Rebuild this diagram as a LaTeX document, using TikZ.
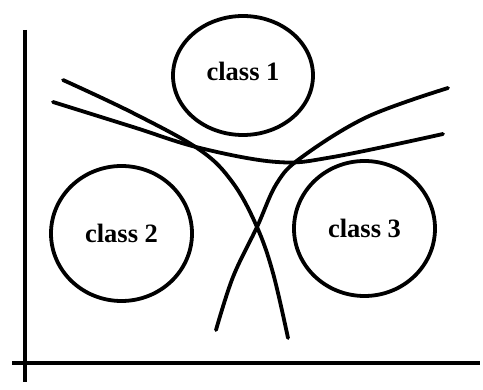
\documentclass[tikz,border=0pt]{standalone}
\usepackage{fontspec}
\setmainfont{Liberation Serif}
\usepackage{tikz}
\usetikzlibrary{shapes.geometric}

\begin{document}
\begin{tikzpicture}[x=1pt, y=-1pt, line width=3.8pt,
                    every node/.style={font=\bfseries\fontsize{26.5}{30}\selectfont},
                    cls/.style={draw, ellipse, inner sep=0pt, minimum width=141pt,
                                minimum height=135pt},
                    border/.style={line cap=round}]
  \useasboundingbox (0,0) rectangle (483,390);

  % axes
  \draw (25,30) -- (25,382);
  \draw (12,363) -- (480,363);

  % the three classes
  \node[cls, minimum width=140pt, minimum height=119pt, text depth=8pt] (class1) at (243,75.5) {class 1};
  \node[cls] (class2) at (121.5,233.5) {class 2};
  \node[cls] (class3) at (364.5,228.5) {class 3};

  % decision boundaries
  \draw[border] plot[smooth, tension=0.6] coordinates
    {(63,80) (133,113) (200,150) (233,183) (257,227) (273,273) (288,338)};
  \draw[border] plot[smooth, tension=0.6] coordinates
    {(448,88) (367,117) (302,157) (277,183) (257,227) (233,277) (216,330)};
  \draw[border] plot[smooth, tension=0.6] coordinates
    {(53,102) (133,127) (200,148) (277,162) (333,157) (443,134)};
\end{tikzpicture}
\end{document}
